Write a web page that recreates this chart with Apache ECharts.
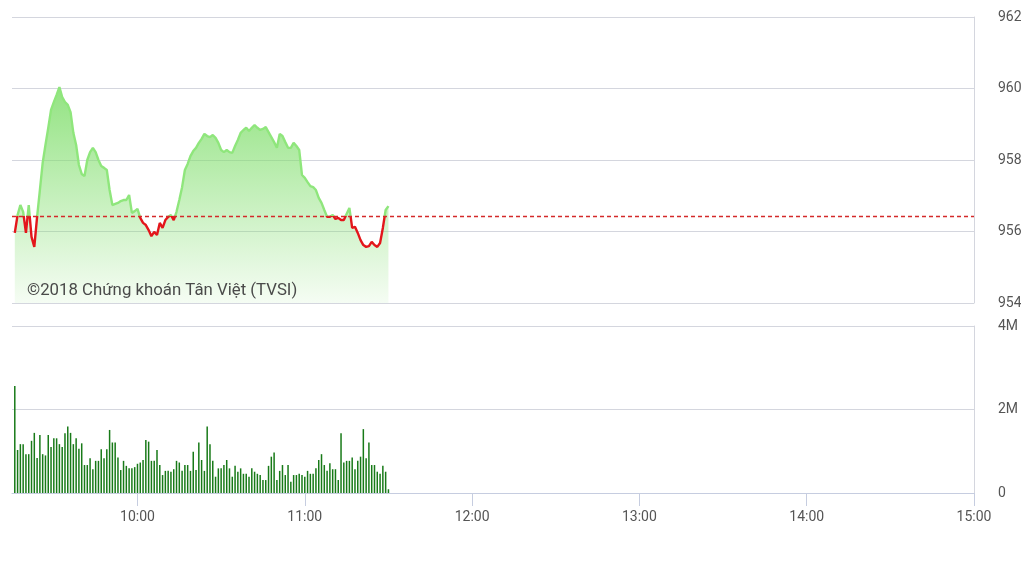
<!DOCTYPE html>
<html>
<head>
<meta charset="utf-8">
<script src="https://cdn.jsdelivr.net/npm/echarts@6/dist/echarts.min.js"></script>
<style>
html,body{margin:0;padding:0;background:#fff;}
#chart{width:1021px;height:574px;}
</style>
</head>
<body>
<div id="chart"></div>
<script>
// ---- data ----
const sessionStart = '09:15';
const sessionEnd = '15:00';
const firstTradeTime = '09:16';
const hourLabels = ['10:00', '11:00', '12:00', '13:00', '14:00', '15:00'];
const referencePrice = 956.42;
const priceTicks = [954, 956, 958, 960, 962];
const volumeTicksM = [0, 2, 4];

const prices = [
  955.96, 956.46, 956.74, 956.55, 955.96, 956.74, 955.85, 955.57, 956.41, 957.16,
  957.92, 958.42, 958.90, 959.40, 959.62, 959.82, 960.04, 959.76, 959.62, 959.54,
  959.34, 958.76, 958.42, 957.86, 957.61, 957.55, 958.00, 958.22, 958.34, 958.22,
  958.00, 957.83, 957.78, 957.72, 957.16, 956.74, 956.77, 956.80, 956.85, 956.88,
  956.88, 957.02, 956.52, 956.57, 956.63, 956.38, 956.24, 956.18, 956.04, 955.87,
  955.99, 955.90, 956.24, 956.10, 956.32, 956.41, 956.46, 956.32, 956.55, 956.88,
  957.24, 957.72, 957.89, 958.11, 958.25, 958.34, 958.48, 958.59, 958.73, 958.67,
  958.64, 958.70, 958.62, 958.48, 958.28, 958.22, 958.28, 958.22, 958.20, 958.39,
  958.56, 958.76, 958.84, 958.90, 958.81, 958.90, 958.98, 958.90, 958.84, 958.87,
  958.92, 958.78, 958.64, 958.50, 958.34, 958.73, 958.67, 958.50, 958.34, 958.34,
  958.48, 958.39, 958.28, 957.58, 957.50, 957.38, 957.27, 957.24, 957.16, 956.94,
  956.80, 956.60, 956.41, 956.41, 956.46, 956.35, 956.38, 956.32, 956.32, 956.49,
  956.66, 956.10, 956.13, 955.96, 955.76, 955.62, 955.57, 955.59, 955.71, 955.62,
  955.57, 955.68, 956.10, 956.60, 956.71
];

// volume in millions of shares
const volumesM = [
  2.56, 1.03, 1.17, 1.17, 0.93, 0.93, 1.25, 1.44, 0.84, 1.39,
  0.93, 0.90, 1.39, 1.10, 1.31, 1.31, 1.17, 1.10, 1.43, 1.59,
  1.44, 1.17, 1.31, 1.06, 1.19, 0.67, 0.67, 0.83, 0.57, 0.77,
  0.77, 1.05, 0.83, 1.05, 1.51, 1.21, 1.21, 0.85, 0.55, 0.77,
  0.65, 0.59, 0.59, 0.62, 0.70, 0.73, 0.79, 1.27, 1.23, 0.77,
  0.77, 1.03, 0.67, 0.43, 0.53, 0.53, 0.51, 0.57, 0.77, 0.73,
  0.53, 0.67, 0.67, 0.53, 0.99, 0.55, 1.21, 0.79, 0.53, 1.59,
  1.17, 0.77, 0.39, 0.59, 0.59, 0.67, 0.79, 0.59, 0.39, 0.65,
  0.51, 0.59, 0.46, 0.46, 0.39, 0.59, 0.51, 0.46, 0.43, 0.31,
  0.31, 0.65, 0.87, 0.97, 0.31, 0.53, 0.67, 0.43, 0.67, 0.27,
  0.43, 0.43, 0.46, 0.43, 0.39, 0.53, 0.46, 0.46, 0.59, 0.79,
  0.93, 0.67, 0.53, 0.71, 0.57, 0.57, 0.31, 1.43, 0.73, 0.77,
  0.77, 0.85, 0.57, 0.77, 0.87, 1.53, 0.83, 1.21, 0.67, 0.67,
  0.51, 0.46, 0.65, 0.51, 0.09
];

const watermark = '©2018 Chứng khoán Tân Việt (TVSI)';

// ---- build minute categories ----
function toMin(s) { const p = s.split(':'); return (+p[0]) * 60 + (+p[1]); }
function toLabel(m) { const h = Math.floor(m / 60), mm = m % 60; return (h < 10 ? '0' : '') + h + ':' + (mm < 10 ? '0' : '') + mm; }
const times = [];
for (let m = toMin(sessionStart); m <= toMin(sessionEnd); m++) times.push(toLabel(m));
const startIdx = times.indexOf(firstTradeTime);

const priceData = prices.map((v, i) => [times[startIdx + i], v]);
const volumeData = volumesM.map((v, i) => [times[startIdx + i], v]);

const gridColor = '#d4d6de';
const labelColor = '#555';
const isHour = (idx, val) => hourLabels.indexOf(val) >= 0;

const chart = echarts.init(document.getElementById('chart'));
chart.setOption({
  animation: false,
  backgroundColor: '#fff',
  textStyle: { fontFamily: 'Roboto, "Liberation Sans", sans-serif' },
  grid: [
    { left: 12, right: 47, top: 17, height: 286, show: false, containLabel: false, outerBoundsMode: 'none' },
    { left: 12, right: 47, top: 326, height: 167, show: false, containLabel: false, outerBoundsMode: 'none' }
  ],
  xAxis: [
    { type: 'category', gridIndex: 0, data: times, boundaryGap: false, show: false },
    {
      type: 'category', gridIndex: 1, data: times, boundaryGap: false,
      axisLine: { show: true, lineStyle: { color: '#c6cde0', width: 1 } },
      axisTick: { show: true, interval: isHour, length: 13, lineStyle: { color: '#c6cde0' } },
      axisLabel: { interval: isHour, color: labelColor, fontSize: 14, margin: 17, showMaxLabel: true },
      splitLine: { show: false }
    }
  ],
  yAxis: [
    {
      type: 'value', gridIndex: 0, position: 'right', min: priceTicks[0], max: priceTicks[priceTicks.length - 1], interval: 2,
      axisLine: { show: true, lineStyle: { color: gridColor } },
      axisTick: { show: false },
      axisLabel: { color: labelColor, fontSize: 14, margin: 24, padding: [6, 0, 0, 0] },
      splitLine: { show: true, lineStyle: { color: gridColor, width: 1 } }
    },
    {
      type: 'value', gridIndex: 1, position: 'right', min: volumeTicksM[0], max: volumeTicksM[volumeTicksM.length - 1], interval: 2,
      axisLine: { show: true, lineStyle: { color: gridColor } },
      axisTick: { show: false },
      axisLabel: { color: labelColor, fontSize: 14, margin: 24, padding: [6, 0, 0, 0], formatter: v => v === 0 ? '0' : v + 'M' },
      splitLine: { show: true, lineStyle: { color: gridColor, width: 1 } }
    }
  ],
  visualMap: {
    show: false, type: 'piecewise', seriesIndex: 0, dimension: 1,
    pieces: [
      { gt: referencePrice, lte: 1000, color: '#8fe67c' },
      { gte: 900, lte: referencePrice, color: '#e3161b' }
    ],
    outOfRange: { color: '#8fe67c' }
  },
  series: [
    {
      type: 'line', xAxisIndex: 0, yAxisIndex: 0, data: priceData,
      showSymbol: false, symbol: 'none',
      lineStyle: { width: 2.4 },
      areaStyle: {
        opacity: 1,
        color: new echarts.graphic.LinearGradient(0, 0, 0, 1, [
          { offset: 0, color: 'rgba(128,222,108,0.85)' },
          { offset: 1, color: 'rgba(128,222,108,0.08)' }
        ])
      },
      z: 3
    },
    {
      type: 'line', xAxisIndex: 0, yAxisIndex: 0, data: [],
      markLine: {
        silent: true, symbol: 'none', label: { show: false },
        lineStyle: { color: '#d42a2a', type: [4, 3], width: 1.4 },
        data: [{ yAxis: referencePrice }]
      },
      z: 4
    },
    {
      type: 'bar', xAxisIndex: 1, yAxisIndex: 1, data: volumeData,
      barWidth: 1.5, itemStyle: { color: '#187a18' }
    }
  ],
  graphic: [
    {
      type: 'text', left: 27, top: 282, z: 10,
      style: { text: watermark, fill: '#4a4a4a', font: '16.8px Roboto, "Liberation Sans", sans-serif' }
    }
  ]
});
</script>
</body>
</html>
